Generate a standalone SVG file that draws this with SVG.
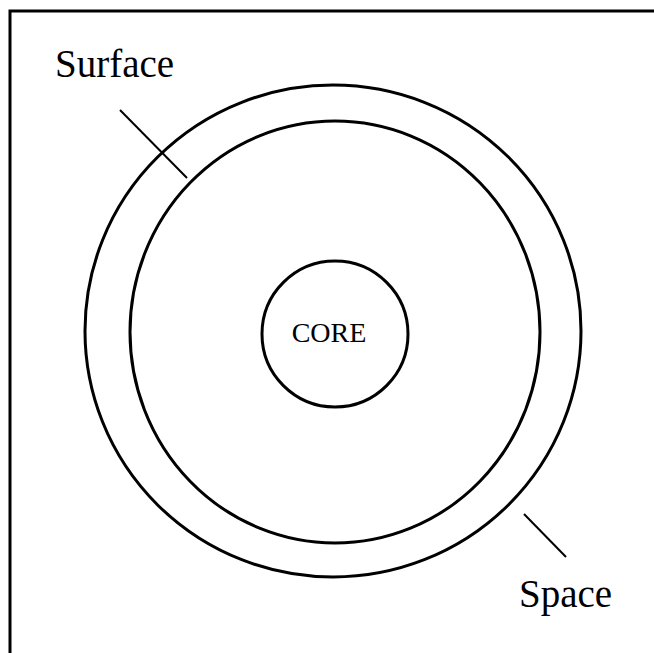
<svg xmlns="http://www.w3.org/2000/svg" width="654" height="653" viewBox="0 0 654 653">
<style>
.ln{fill:none;stroke:#000;stroke-width:3}
.thin{fill:none;stroke:#000;stroke-width:2}
.t{font-family:"Liberation Serif","Times New Roman",serif;fill:#000}
</style>
<rect width="654" height="653" fill="#fff"/>
<path class="ln" d="M10,660 L10,11 L660,11"/>
<g id="space">
<ellipse class="ln" cx="333" cy="331" rx="248" ry="246"/>
</g>
<g id="surface">
<ellipse class="ln" cx="335" cy="332" rx="205" ry="211"/>
</g>
<g id="core">
<circle class="ln" cx="335" cy="334" r="73"/>
<text class="t" x="329" y="342" font-size="28" text-anchor="middle">CORE</text>
</g>
<g id="labels">
<text class="t" x="55" y="77" font-size="39">Surface</text>
<text class="t" x="519" y="607" font-size="39">Space</text>
</g>
<g id="connectors">
<line class="thin" x1="120" y1="110" x2="187" y2="178"/>
<line class="thin" x1="524" y1="514" x2="566" y2="557"/>
</g>
</svg>
